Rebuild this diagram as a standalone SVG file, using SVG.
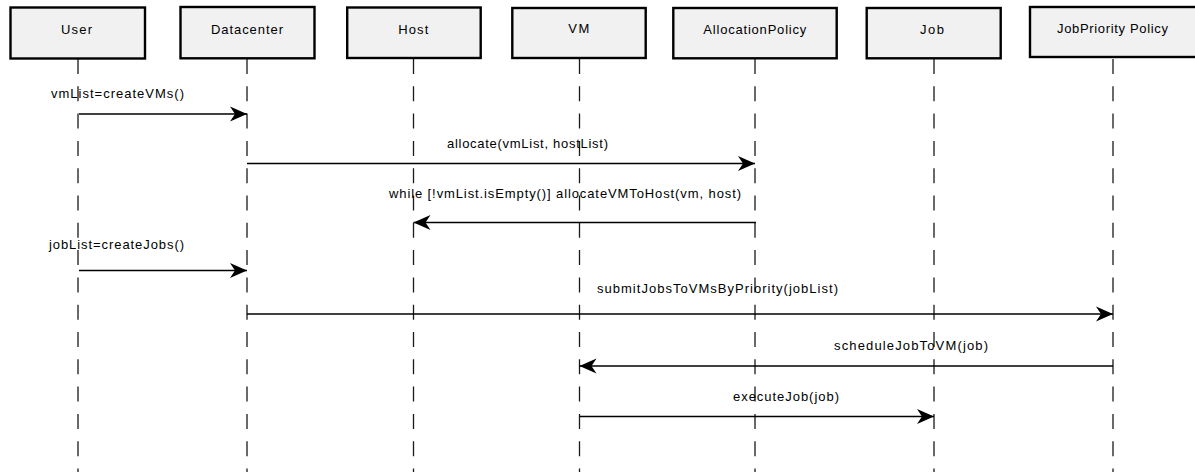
<svg xmlns="http://www.w3.org/2000/svg" width="1195" height="472" viewBox="0 0 1195 472">
  <style>
    .box { fill: #f1f1f1; stroke: #000; stroke-width: 2.4; }
    .name { font-family: "Liberation Sans", Arial, sans-serif; font-size: 13px; fill: #000; }
    .life { stroke: #1a1a1a; stroke-width: 1.3; stroke-dasharray: 15 12.3; fill: none; }
    .msg { stroke: #000; stroke-width: 1.6; fill: none; marker-end: url(#head); }
    .lbl { font-family: "Liberation Sans", Arial, sans-serif; font-size: 13px; fill: #000; }
  </style>
  <defs>
    <marker id="head" markerUnits="userSpaceOnUse" markerWidth="20" markerHeight="18" viewBox="-18 -9 20 18" refX="0" refY="0" orient="auto">
      <path d="M0,0 L-17,-7.5 L-12,0 L-17,7.5 Z" fill="#000"/>
    </marker>
  </defs>
  <rect width="1195" height="472" fill="#fff"/>

  <!-- lifelines -->
  <g id="lifelines">
    <line class="life" x1="78" y1="59" x2="78" y2="472"/>
    <line class="life" x1="247" y1="59" x2="247" y2="472"/>
    <line class="life" x1="413.5" y1="59" x2="413.5" y2="472"/>
    <line class="life" x1="579.5" y1="59" x2="579.5" y2="472"/>
    <line class="life" x1="755" y1="59" x2="755" y2="472"/>
    <line class="life" x1="934" y1="59" x2="934" y2="472"/>
    <line class="life" x1="1113" y1="59" x2="1113" y2="472"/>
  </g>

  <!-- participants -->
  <g id="user">
    <rect class="box" x="10.5" y="7.5" width="134.5" height="51"/>
    <text class="name" x="61" y="33.5" textLength="31" lengthAdjust="spacing">User</text>
  </g>
  <g id="datacenter">
    <rect class="box" x="180.5" y="7" width="134" height="51.3"/>
    <text class="name" x="211" y="33.5" textLength="72" lengthAdjust="spacing">Datacenter</text>
  </g>
  <g id="host">
    <rect class="box" x="347.2" y="7.5" width="133.5" height="50.5"/>
    <text class="name" x="398.3" y="33.5" textLength="30" lengthAdjust="spacing">Host</text>
  </g>
  <g id="vm">
    <rect class="box" x="512.3" y="8" width="133.4" height="50"/>
    <text class="name" x="568.3" y="33" textLength="21" lengthAdjust="spacing">VM</text>
  </g>
  <g id="allocation-policy">
    <rect class="box" x="673.3" y="8" width="163.4" height="50.3"/>
    <text class="name" x="703.3" y="33.5" textLength="103" lengthAdjust="spacing">AllocationPolicy</text>
  </g>
  <g id="job">
    <rect class="box" x="866.7" y="8" width="134" height="50.3"/>
    <text class="name" x="920" y="33.5" textLength="24" lengthAdjust="spacing">Job</text>
  </g>
  <g id="job-priority-policy">
    <rect class="box" x="1030" y="7" width="170" height="50"/>
    <text class="name" x="1057" y="33" textLength="111" lengthAdjust="spacing">JobPriority Policy</text>
  </g>

  <!-- messages -->
  <g id="connectors">
    <line class="msg" x1="79" y1="114" x2="247" y2="114"/>
    <text class="lbl" x="51" y="98" textLength="133" lengthAdjust="spacing">vmList=createVMs()</text>

    <line class="msg" x1="247" y1="163.5" x2="755" y2="163.5"/>
    <text class="lbl" x="447" y="148" textLength="161" lengthAdjust="spacing">allocate(vmList, hostList)</text>

    <line class="msg" x1="756" y1="222.5" x2="413.5" y2="222.5"/>
    <text class="lbl" x="389" y="198" textLength="352" lengthAdjust="spacing">while [!vmList.isEmpty()] allocateVMToHost(vm, host)</text>

    <line class="msg" x1="79" y1="270.5" x2="247" y2="270.5"/>
    <text class="lbl" x="49" y="249" textLength="135" lengthAdjust="spacing">jobList=createJobs()</text>

    <line class="msg" x1="247" y1="314" x2="1113" y2="314"/>
    <text class="lbl" x="597" y="293" textLength="241" lengthAdjust="spacing">submitJobsToVMsByPriority(jobList)</text>

    <line class="msg" x1="1113" y1="366" x2="579.5" y2="366"/>
    <text class="lbl" x="834" y="350" textLength="154" lengthAdjust="spacing">scheduleJobToVM(job)</text>

    <line class="msg" x1="580" y1="416.5" x2="934" y2="416.5"/>
    <text class="lbl" x="733" y="401" textLength="106" lengthAdjust="spacing">executeJob(job)</text>
  </g>
</svg>
